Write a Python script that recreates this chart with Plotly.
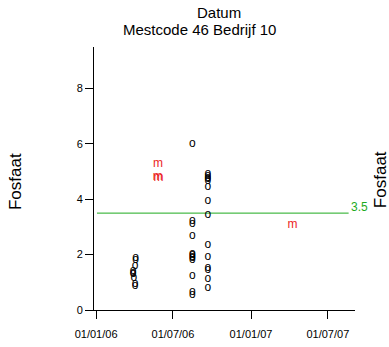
import plotly.graph_objects as go

# --- data ---
o_dates = [
    "2006-04-04", "2006-04-04", "2006-04-03", "2006-03-29", "2006-03-29", "2006-03-29",
    "2006-03-31", "2006-04-03", "2006-04-03",
    "2006-08-16", "2006-08-16", "2006-08-16", "2006-08-16", "2006-08-16", "2006-08-16",
    "2006-08-16", "2006-08-16", "2006-08-16", "2006-08-16", "2006-08-16", "2006-08-16",
    "2006-09-21", "2006-09-21", "2006-09-21", "2006-09-21", "2006-09-21", "2006-09-21",
    "2006-09-21", "2006-09-21", "2006-09-21", "2006-09-21", "2006-09-21", "2006-09-21",
    "2006-09-21", "2006-09-21",
]
o_values = [
    1.88, 1.82, 1.60, 1.40, 1.35, 1.30, 1.15, 0.95, 0.85,
    6.00, 3.20, 3.10, 2.69, 2.02, 1.97, 1.92, 1.87, 1.80, 1.24, 0.66, 0.54,
    4.90, 4.85, 4.78, 4.72, 4.65, 4.44, 3.92, 3.42, 2.36, 1.90, 1.51, 1.45, 1.11, 0.81,
]
m_dates = ["2006-05-27", "2006-05-26", "2006-05-28", "2007-04-09"]
m_values = [5.28, 4.82, 4.76, 3.08]

ref_value = 3.5
ref_dates = ["2006-01-03", "2007-08-19"]
ref_label = "3.5"

x_tickvals = ["2006-01-01", "2006-07-01", "2007-01-01", "2007-07-01"]
x_ticktext = ["01/01/06", "01/07/06", "01/01/07", "01/07/07"]
y_tickvals = [0, 2, 4, 6, 8]

FONT = "Liberation Sans, Arial, sans-serif"

fig = go.Figure()
fig.add_trace(go.Scatter(
    x=ref_dates, y=[ref_value] * len(ref_dates), mode="lines",
    line=dict(color="rgb(30,170,30)", width=1), hoverinfo="skip", showlegend=False,
))
fig.add_trace(go.Scatter(
    x=o_dates, y=o_values, mode="text", text=["o"] * len(o_values),
    textposition="middle center", textfont=dict(family=FONT, size=12, color="black"),
    showlegend=False,
))
fig.add_trace(go.Scatter(
    x=m_dates, y=m_values, mode="text", text=["m"] * len(m_values),
    textposition="middle center", textfont=dict(family=FONT, size=12, color="rgb(235,30,30)"),
    showlegend=False,
))

fig.add_annotation(x=ref_dates[-1], y=ref_value, xref="x", yref="y", text=ref_label,
                   showarrow=False, xanchor="left", yanchor="bottom", yshift=-3, xshift=0,
                   font=dict(family=FONT, size=12, color="rgb(30,170,30)"))
fig.add_annotation(x=0.479, y=1.131, xref="paper", yref="paper", text="Datum",
                   showarrow=False, xanchor="center", yanchor="middle",
                   font=dict(family=FONT, size=15, color="black"))
fig.add_annotation(x=0.406, y=1.068, xref="paper", yref="paper", text="Mestcode 46 Bedrijf 10",
                   showarrow=False, xanchor="center", yanchor="middle",
                   font=dict(family=FONT, size=15, color="black"))
fig.add_annotation(x=-0.303, y=0.49, xref="paper", yref="paper", text="Fosfaat",
                   showarrow=False, xanchor="center", yanchor="middle", textangle=-90,
                   font=dict(family=FONT, size=17, color="black"))
fig.add_annotation(x=1.096, y=0.494, xref="paper", yref="paper", text="Fosfaat",
                   showarrow=False, xanchor="center", yanchor="middle", textangle=-90,
                   font=dict(family=FONT, size=17, color="black"))

fig.update_layout(
    width=389, height=347,
    margin=dict(l=94, r=34, t=47, b=37, autoexpand=False),
    paper_bgcolor="white", plot_bgcolor="white",
    font=dict(family=FONT, size=11, color="black"),
    showlegend=False,
)
fig.update_xaxes(
    type="date", range=["2005-12-27", "2007-09-03"],
    tickvals=x_tickvals, ticktext=x_ticktext,
    showgrid=False, zeroline=False, showline=True, linecolor="black", linewidth=1,
    ticks="outside", ticklen=8, tickcolor="black", tickfont=dict(size=11),
    ticklabelstandoff=6, automargin=False,
)
fig.update_yaxes(
    range=[0, 9.5], tickvals=y_tickvals,
    showgrid=False, zeroline=False, showline=True, linecolor="black", linewidth=1,
    ticks="outside", ticklen=8, tickcolor="black", tickfont=dict(size=11),
    automargin=False,
)

fig.write_html("out.html")
